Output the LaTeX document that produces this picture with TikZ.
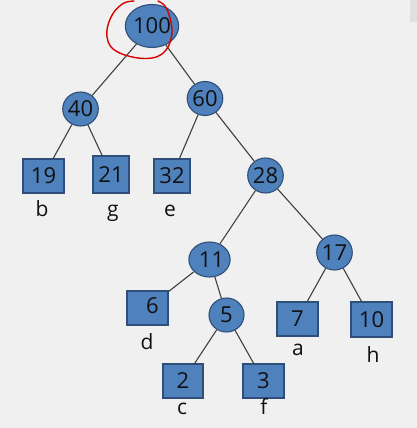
\documentclass[tikz,border=0pt]{standalone}
\usepackage{fontspec}
\setmainfont{Open Sans}
\usetikzlibrary{shapes.geometric}
\definecolor{bg}{HTML}{F0F0F0}
\definecolor{nodefill}{HTML}{4F81BD}
\definecolor{nodeline}{HTML}{2F4F78}
\definecolor{edgecol}{HTML}{404040}
\definecolor{txt}{HTML}{111111}
\tikzset{
  inner/.style={ellipse, draw=nodeline, fill=nodefill, line width=1.1pt, inner sep=0pt,
    font=\fontsize{22}{26}\selectfont, text=txt},
  leaf/.style={rectangle, draw=nodeline, fill=nodefill, line width=1.1pt, inner sep=0pt,
    minimum width=40pt, minimum height=34pt, font=\fontsize{22}{26}\selectfont, text=txt},
  lbl/.style={inner sep=0pt, font=\fontsize{21}{25}\selectfont, text=txt},
  edge/.style={draw=edgecol, line width=1.1pt},
}
\begin{document}
\begin{tikzpicture}[x=1pt,y=-1pt]
\fill[bg] (0,0) rectangle (417,428);
\useasboundingbox (0,0) rectangle (417,428);
\fill[black!12] (410,0) rectangle (417,22);
% inner nodes
\node[inner, minimum width=40pt, minimum height=43pt] (n100) at (152,26) {100};
\node[inner, minimum width=35pt, minimum height=34pt] (n40) at (80.5,109) {40};
\node[inner, minimum width=34pt, minimum height=34pt] (n60) at (205,98.5) {60};
\node[inner, minimum width=35pt, minimum height=35pt] (n28) at (265.5,175.5) {28};
\node[inner, minimum width=41pt, minimum height=35pt] (n11) at (209.5,259.5) {\hspace*{4pt}11};
\node[inner, minimum width=35pt, minimum height=35pt] (n17) at (334.5,252.5) {17};
\node[inner, minimum width=35pt, minimum height=34pt] (n5) at (226.5,315) {5};
% leaves
\node[leaf, minimum width=41pt] (n19) at (43.5,176) {19};
\node[leaf, minimum width=36pt, minimum height=37pt] (n21) at (111,174.5) {21};
\node[leaf, minimum width=36pt] (n32) at (172,176) {32};
\node[leaf, minimum width=41pt] (n6) at (147.5,308) {\raisebox{4pt}{\hspace*{10pt}6}};
\node[leaf] (n2) at (183,381) {2};
\node[leaf, minimum width=41pt] (n3) at (263.5,381) {3};
\node[leaf, minimum width=41pt] (n7) at (297.5,319) {7};
\node[leaf, minimum width=41pt, minimum height=35pt] (n10) at (371.5,319.5) {10};
% letter labels
\node[lbl, anchor=base] (lb) at (42,216) {b};
\node[lbl, anchor=base] (lg) at (113,216) {g};
\node[lbl, anchor=base] (le) at (170,216) {e};
\node[lbl, anchor=base] (ld) at (147,349) {d};
\node[lbl, anchor=base] (lc) at (182,414) {c};
\node[lbl, anchor=base] (lf) at (264,414) {f};
\node[lbl, anchor=base] (la) at (298,355) {a};
\node[lbl, anchor=base] (lh) at (373,362) {h};
% edges
\draw[edge] (n100) -- (n40);
\draw[edge] (n100) -- (n60);
\draw[edge] (n40) -- (n19);
\draw[edge] (n40) -- (n21);
\draw[edge] (n60) -- (n32);
\draw[edge] (n60) -- (n28);
\draw[edge] (n28) -- (n11);
\draw[edge] (n28) -- (n17);
\draw[edge] (n11) -- (n6);
\draw[edge] (n11) -- (n5);
\draw[edge] (n5) -- (n2);
\draw[edge] (n5) -- (n3);
\draw[edge] (n17) -- (n7);
\draw[edge] (n17) -- (n10);
% red hand-drawn circle
\draw[red!85!black, line width=1.4pt, line cap=round, line join=round]
  plot[smooth, tension=0.6] coordinates {(134,1) (124,3) (114,12) (108,25) (107,37) (111,47) (122,54) (138,58) (152,58) (162,54) (169,45) (172,32) (170,18) (165,6) (158,1)};
\end{tikzpicture}
\end{document}
